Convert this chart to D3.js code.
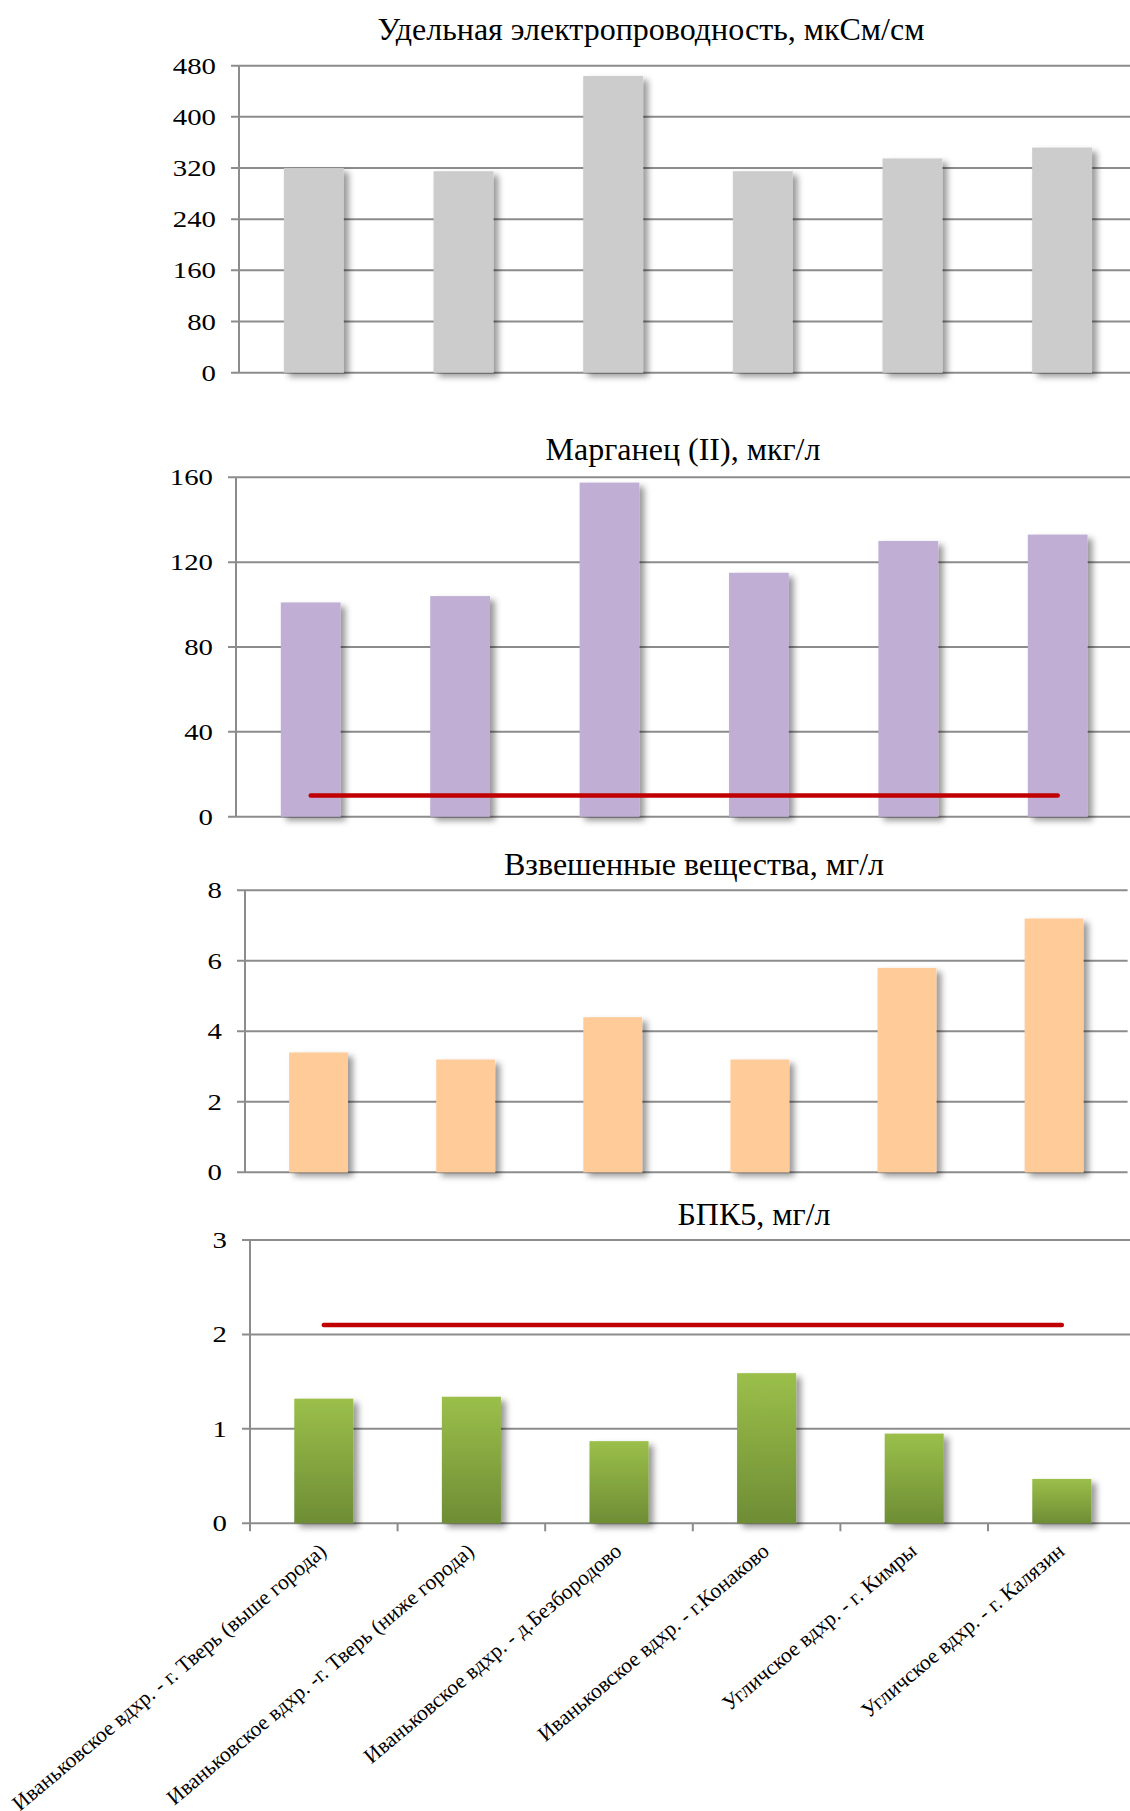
<!DOCTYPE html>
<html>
<head>
<meta charset="utf-8">
<script src="https://cdn.jsdelivr.net/npm/d3@7/dist/d3.min.js"></script>
<style>
  html, body { margin: 0; padding: 0; background: #ffffff; }
  svg { display: block; }
  text { font-family: "Liberation Serif", "Times New Roman", serif; fill: #000; }
</style>
</head>
<body>
<script>
// Sampling sites along the Ivankovo and Uglich reservoirs
const sites = [
  "Иваньковское вдхр. - г. Тверь (выше города)",
  "Иваньковское вдхр. -г. Тверь (ниже города)",
  "Иваньковское вдхр. - д.Безбородово",
  "Иваньковское вдхр. - г.Конаково",
  "Угличское вдхр. - г. Кимры",
  "Угличское вдхр. - г. Калязин"
];

// Measured values per site
const conductivity = [320, 315, 464, 315, 335, 352];     // мкСм/см
const manganese    = [101, 104, 157.5, 115, 130, 133];   // мкг/л
const suspended    = [3.4, 3.2, 4.4, 3.2, 5.8, 7.2];     // мг/л
const bod5         = [1.32, 1.34, 0.87, 1.59, 0.95, 0.47]; // мг/л

// Limit values (MPC) drawn as red lines
const manganeseLimit = 10;
const bod5Limit = 2.1;

// Axis ticks
const conductivityTicks = [0, 80, 160, 240, 320, 400, 480];
const manganeseTicks    = [0, 40, 80, 120, 160];
const suspendedTicks    = [0, 2, 4, 6, 8];
const bod5Ticks         = [0, 1, 2, 3];

// Titles
const titles = [
  "Удельная электропроводность, мкСм/см",
  "Марганец (II), мкг/л",
  "Взвешенные вещества, мг/л",
  "БПК5, мг/л"
];

const W = 1130, H = 1811;
const svg = d3.select("body").append("svg").attr("width", W).attr("height", H);

const defs = svg.append("defs");
const shadow = defs.append("filter").attr("id", "barShadow")
  .attr("x", "-20%").attr("y", "-20%").attr("width", "160%").attr("height", "140%");
shadow.append("feDropShadow")
  .attr("dx", 5).attr("dy", 4).attr("stdDeviation", 3)
  .attr("flood-color", "#000").attr("flood-opacity", 0.4);

const green = defs.append("linearGradient").attr("id", "greenFill")
  .attr("x1", 0).attr("y1", 0).attr("x2", 0).attr("y2", 1);
green.append("stop").attr("offset", "0%").attr("stop-color", "#9BBF4A");
green.append("stop").attr("offset", "100%").attr("stop-color", "#6E8D35");

const gridColor = "#8C8C8C";

// Panel layout: plot frame, title placement, fill
const panels = [
  { values: conductivity, ticks: conductivityTicks, max: 480, title: titles[0],
    left: 239, step: 149.65, top: 65.7, bottom: 372.7, titleX: 651, titleY: 40,
    fill: "#CCCCCC" },
  { values: manganese, ticks: manganeseTicks, max: 160, title: titles[1],
    left: 236, step: 149.4, top: 477.3, bottom: 816.7, titleX: 683, titleY: 460,
    fill: "#C0AED4", limit: manganeseLimit },
  { values: suspended, ticks: suspendedTicks, max: 8, title: titles[2],
    left: 245, step: 147.1, top: 890.3, bottom: 1172.3, titleX: 694, titleY: 875,
    fill: "#FFCC99" },
  { values: bod5, ticks: bod5Ticks, max: 3, title: titles[3],
    left: 250, step: 147.6, top: 1240, bottom: 1523.3, titleX: 754, titleY: 1225,
    fill: "url(#greenFill)", limit: bod5Limit, categoryAxis: true }
];

panels.forEach(p => {
  const g = svg.append("g");
  const right = p.left + p.step * sites.length;

  const x = d3.scaleBand()
    .domain(sites)
    .range([p.left, right])
    .paddingInner(0.6)
    .paddingOuter(0.3);
  const y = d3.scaleLinear().domain([0, p.max]).range([p.bottom, p.top]);

  // Title
  g.append("text")
    .attr("x", p.titleX).attr("y", p.titleY)
    .attr("text-anchor", "middle")
    .style("font-size", "32px")
    .text(p.title);

  // Horizontal gridlines with short ticks on the left
  g.selectAll("line.grid").data(p.ticks).join("line")
    .attr("class", "grid")
    .attr("x1", p.left - 8).attr("x2", right)
    .attr("y1", d => y(d)).attr("y2", d => y(d))
    .attr("stroke", gridColor).attr("stroke-width", 2);

  // Value axis line
  g.append("line")
    .attr("x1", p.left).attr("x2", p.left)
    .attr("y1", p.top).attr("y2", p.bottom + (p.categoryAxis ? 8 : 0))
    .attr("stroke", gridColor).attr("stroke-width", 2);

  // Tick labels (slightly widened serif digits)
  g.selectAll("text.tick").data(p.ticks).join("text")
    .attr("class", "tick")
    .attr("text-anchor", "end")
    .attr("transform", d => `translate(${p.left - 23},${y(d) + 8}) scale(1.2,1)`)
    .style("font-size", "24px")
    .text(d => d);

  // Bars
  g.selectAll("rect.bar").data(p.values).join("rect")
    .attr("class", "bar")
    .attr("x", (d, i) => x(sites[i]))
    .attr("width", x.bandwidth())
    .attr("y", d => y(d))
    .attr("height", d => y(0) - y(d))
    .attr("fill", p.fill)
    .attr("filter", "url(#barShadow)");

  // Limit line spanning first to last site
  if (p.limit !== undefined) {
    const c0 = x(sites[0]) + x.bandwidth() / 2;
    const c1 = x(sites[sites.length - 1]) + x.bandwidth() / 2;
    g.append("line")
      .attr("x1", c0).attr("x2", c1)
      .attr("y1", y(p.limit)).attr("y2", y(p.limit))
      .attr("stroke", "#C00000").attr("stroke-width", 4.5)
      .attr("stroke-linecap", "round");
  }

  // Category axis: ticks between sites and rotated names
  if (p.categoryAxis) {
    const bounds = d3.range(1, sites.length + 1).map(i => p.left + i * p.step);
    g.selectAll("line.ctick").data(bounds).join("line")
      .attr("class", "ctick")
      .attr("x1", d => d).attr("x2", d => d)
      .attr("y1", p.bottom).attr("y2", p.bottom + 8)
      .attr("stroke", gridColor).attr("stroke-width", 2);

    g.selectAll("text.cat").data(sites).join("text")
      .attr("class", "cat")
      .attr("text-anchor", "end")
      .attr("transform", d => `translate(${x(d) + x.bandwidth() / 2 + 4},${p.bottom + 30}) rotate(-40)`)
      .style("font-size", "21.5px")
      .text(d => d);
  }
});
</script>
</body>
</html>
